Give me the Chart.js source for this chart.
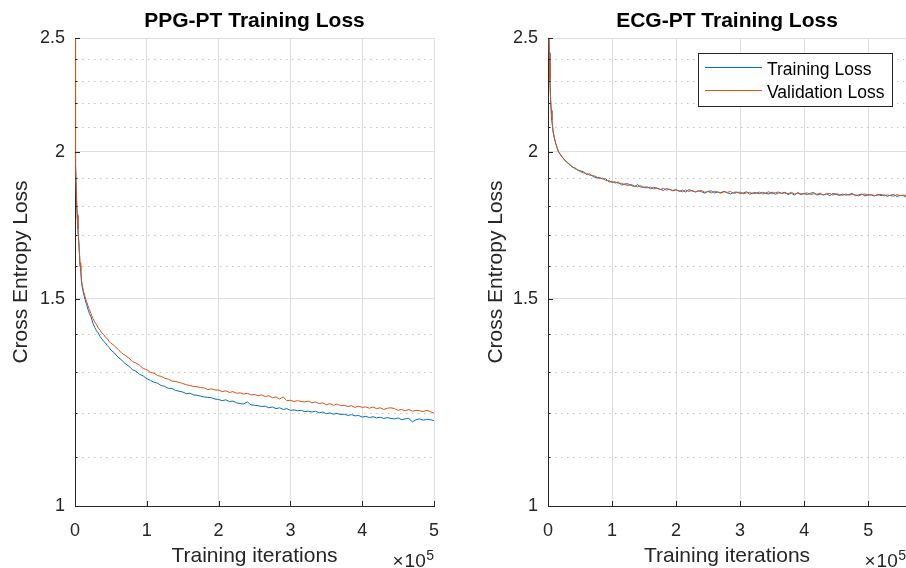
<!DOCTYPE html>
<html><head><meta charset="utf-8">
<script src="https://cdn.jsdelivr.net/npm/chart.js@4.4.0/dist/chart.umd.min.js"></script>
<style>
html,body{margin:0;padding:0;background:#fff;overflow:hidden;}
#wrap{position:relative;width:906px;height:568px;overflow:hidden;background:#fff;}
canvas{position:absolute;top:0;}
</style></head><body>
<div id="wrap">
<canvas id="c1" width="509" height="568" style="left:0px"></canvas>
<canvas id="c2" width="548" height="568" style="left:453px"></canvas>
</div>
<script>
// ---------------- data ----------------
const seriesNames = ['Training Loss', 'Validation Loss'];
const chartTitles = ['PPG-PT Training Loss', 'ECG-PT Training Loss'];
const yTickValues = [1, 1.5, 2, 2.5];
const yMinorValues = [1.1, 1.2, 1.3, 1.4, 1.6, 1.7, 1.8, 1.9, 2.1, 2.2, 2.3, 2.4];
const xTickK = [0, 100, 200, 300, 400, 500]; // iterations in thousands

const ppgIterK = [0,0.5,1,2,3,4,5,6,7,8,9,10,12,14,16,18,20,22.5,25,27.5,30,32.5,35,37.5,40,42.5,45,47.5,
50,55,60,65,70,75,80,85,90,95,100,105,110,115,120,125,130,135,140,145,150,155,160,165,170,175,180,185,190,195,
200,205,210,215,220,225,230,235,240,245,250,255,260,265,270,275,280,285,290,295,300,305,310,315,320,325,330,335,340,345,
350,355,360,365,370,375,380,385,390,395,400,405,410,415,420,425,430,435,440,445,450,455,460,465,470,475,480,485,490,495,500];
const ppgTrain = [3.2,2.28,1.95,1.83,1.765,1.72,1.685,1.645,1.60,1.592,1.552,1.536,1.514,1.498,1.484,1.470,1.458,1.447,1.430,1.419,1.409,1.403,1.393,1.387,1.380,1.376,1.369,1.364,
1.357,1.349,1.338,1.331,1.321,1.315,1.306,1.302,1.294,1.290,
1.283,1.279,1.274,1.272,1.266,1.264,1.259,1.259,1.254,1.252,
1.250,1.246,1.247,1.243,1.242,1.240,1.238,1.237,1.236,1.233,
1.232,1.229,1.231,1.227,1.228,1.224,1.222,1.221,1.226,1.219,
1.218,1.217,1.215,1.216,1.212,1.214,1.210,1.212,1.208,1.210,
1.206,1.207,1.205,1.206,1.203,1.204,1.202,1.204,1.200,1.202,
1.198,1.200,1.197,1.199,1.196,1.197,1.194,1.196,1.193,1.194,
1.190,1.192,1.189,1.191,1.188,1.190,1.187,1.189,1.187,1.186,
1.188,1.184,1.186,1.187,1.179,1.184,1.186,1.183,1.185,1.184,
1.182];
const ppgVal = [3.2,2.3,1.96,1.84,1.77,1.725,1.69,1.65,1.61,1.585,1.558,1.542,1.522,1.507,1.493,1.480,1.469,1.456,1.443,1.434,1.426,1.417,1.411,1.403,1.399,1.391,1.388,1.380,
1.376,1.368,1.359,1.349,1.343,1.336,1.327,1.323,1.317,1.309,
1.306,1.299,1.297,1.291,1.289,1.284,1.282,1.277,1.276,1.274,
1.271,1.268,1.266,1.264,1.263,1.261,1.260,1.256,1.258,1.255,
1.255,1.251,1.253,1.249,1.251,1.247,1.248,1.245,1.247,1.243,
1.244,1.241,1.243,1.239,1.241,1.236,1.238,1.233,1.238,1.229,
1.230,1.227,1.229,1.227,1.226,1.228,1.224,1.226,1.222,1.224,
1.219,1.222,1.218,1.221,1.217,1.218,1.215,1.217,1.213,1.216,
1.213,1.214,1.211,1.214,1.210,1.212,1.208,1.211,1.212,1.210,
1.206,1.208,1.205,1.208,1.204,1.206,1.205,1.203,1.206,1.203,
1.199];

const ecgIterK = [0,1,2,3,4,5,6,8,10,12,14,16,18,20,23,26,30,34,38,42,46,50,
55,60,65,70,75,80,85,90,95,100,105,110,115,120,125,130,135,140,145,150,155,160,165,170,175,180,185,190,195,200,
205,210,215,220,225,230,235,240,245,250,255,260,265,270,275,280,285,290,295,300,305,310,315,320,325,330,335,340,345,350,
355,360,365,370,375,380,385,390,395,400,405,410,415,420,425,430,435,440,445,450,455,460,465,470,475,480,485,490,495,500,
505,510,515,520,525,530,535,540,545,550,555,560];
const ecgTrain = [2.95,2.62,2.43,2.31,2.225,2.17,2.13,2.082,2.054,2.036,2.017,2.004,1.994,1.989,1.976,1.970,1.958,1.953,1.941,1.939,1.930,1.928,
1.924,1.914,1.916,1.907,1.901,1.903,1.897,1.898,1.886,1.887,
1.882,1.886,1.874,1.879,1.879,1.873,1.869,1.876,1.867,1.867,
1.868,1.861,1.866,1.863,1.859,1.855,1.862,1.858,1.855,1.858,
1.851,1.856,1.849,1.858,1.853,1.850,1.854,1.850,1.845,1.852,
1.853,1.846,1.849,1.847,1.852,1.846,1.842,1.848,1.849,1.844,
1.846,1.850,1.841,1.846,1.847,1.843,1.848,1.844,1.842,1.849,
1.841,1.846,1.845,1.848,1.840,1.845,1.838,1.847,1.842,1.843,
1.840,1.845,1.847,1.838,1.842,1.839,1.843,1.836,1.844,1.841,
1.837,1.842,1.838,1.840,1.844,1.836,1.839,1.842,1.835,1.840,
1.838,1.835,1.841,1.836,1.839,1.834,1.838,1.840,1.833,1.837,
1.836,1.830];
const ecgVal = [2.95,2.60,2.42,2.30,2.22,2.168,2.132,2.078,2.056,2.033,2.020,2.001,1.997,1.985,1.979,1.967,1.961,1.949,1.944,1.935,1.933,1.925,
1.920,1.918,1.911,1.910,1.906,1.899,1.900,1.891,1.892,1.884,
1.887,1.880,1.881,1.876,1.873,1.877,1.871,1.868,1.872,1.865,
1.864,1.867,1.860,1.864,1.858,1.863,1.856,1.859,1.853,1.857,
1.854,1.850,1.857,1.851,1.855,1.849,1.852,1.855,1.848,1.851,
1.846,1.852,1.849,1.845,1.850,1.848,1.851,1.844,1.847,1.849,
1.843,1.846,1.848,1.843,1.845,1.849,1.842,1.846,1.850,1.843,
1.847,1.849,1.844,1.846,1.843,1.848,1.842,1.845,1.840,1.844,
1.846,1.840,1.843,1.841,1.845,1.838,1.842,1.844,1.838,1.843,
1.840,1.837,1.842,1.838,1.841,1.839,1.835,1.840,1.842,1.837,
1.840,1.836,1.838,1.841,1.835,1.839,1.836,1.834,1.840,1.836,
1.838,1.837];

// ---------------- styling ----------------
const FONT = '"Liberation Sans", Arial, Helvetica, sans-serif';
const INK = '#262626';
const BLUE = '#0072BD';
const ORANGE = '#D95319';

const decor = {
  id: 'decor',
  beforeDatasetsDraw(chart) {
    const {ctx, chartArea: a, scales: {y}} = chart;
    ctx.save();
    ctx.strokeStyle = '#c4c4c4';
    ctx.lineWidth = 1;
    ctx.setLineDash([1.5, 4.5]);
    for (const v of yMinorValues) {
      const py = Math.round(y.getPixelForValue(v)) + 0.5;
      ctx.beginPath(); ctx.moveTo(a.left + 1, py); ctx.lineTo(a.right, py); ctx.stroke();
    }
    ctx.restore();
  },
  afterDraw(chart, args, opts) {
    const {ctx, chartArea: a, scales: {x, y}} = chart;
    ctx.save();
    ctx.strokeStyle = INK; ctx.lineWidth = 1; ctx.setLineDash([]);
    ctx.beginPath();
    for (const v of yTickValues) { const py = Math.round(y.getPixelForValue(v)) + 0.5; ctx.moveTo(a.left, py); ctx.lineTo(a.left + 5, py); }
    for (const v of yMinorValues) { const py = Math.round(y.getPixelForValue(v)) + 0.5; ctx.moveTo(a.left, py); ctx.lineTo(a.left + 2.5, py); }
    for (const v of xTickK) { const px = Math.round(x.getPixelForValue(v)) + 0.5; ctx.moveTo(px, a.bottom); ctx.lineTo(px, a.bottom - 5); }
    ctx.stroke();
    // x10^5 exponent label
    ctx.fillStyle = INK; ctx.textAlign = 'right'; ctx.textBaseline = 'alphabetic';
    ctx.font = '14px ' + FONT;
    const w5 = ctx.measureText('5').width;
    ctx.fillText('5', a.right, 559.5);
    ctx.font = '19px ' + FONT;
    const x10 = a.right - w5 - 0.5;
    ctx.fillText('10', x10, 566.5);
    const w10 = ctx.measureText('10').width;
    ctx.fillText('\u00D7', x10 - w10 - 1, 566.5);
    // legend box
    if (opts && opts.legend) {
      const ds = chart.data.datasets;
      ctx.font = '17.5px ' + FONT;
      const tw = Math.max(...ds.map(d => ctx.measureText(d.label).width));
      const right = a.right - 14, top = a.top + 15;
      const w = Math.round(7 + 57 + 5 + tw + 8), h = 53;
      const left = Math.round(right - w);
      ctx.fillStyle = '#fff'; ctx.fillRect(left, top, w, h);
      ctx.strokeStyle = INK; ctx.lineWidth = 1;
      ctx.strokeRect(left + 0.5, top + 0.5, w, h);
      const rows = [14.5, 37.5];
      ds.forEach((d, i) => {
        const ry = top + rows[i];
        ctx.strokeStyle = d.borderColor; ctx.lineWidth = 1;
        ctx.beginPath(); ctx.moveTo(left + 7, ry); ctx.lineTo(left + 64, ry); ctx.stroke();
        ctx.fillStyle = '#000'; ctx.textAlign = 'left'; ctx.textBaseline = 'middle';
        ctx.fillText(d.label, left + 69, ry + 2.3);
      });
    }
    ctx.restore();
  }
};

function makeChart(id, iters, train, val, title, xMax, yWidth, rightSpace, yTitlePad, showLegend) {
  const pts = arr => iters.map((k, i) => ({x: k, y: arr[i]}));
  return new Chart(document.getElementById(id), {
    type: 'line',
    data: {
      datasets: [
        {label: seriesNames[0], data: pts(train), borderColor: BLUE, backgroundColor: BLUE, borderWidth: 1, pointRadius: 0, tension: 0, fill: false, order: 2},
        {label: seriesNames[1], data: pts(val), borderColor: ORANGE, backgroundColor: ORANGE, borderWidth: 1, pointRadius: 0, tension: 0, fill: false, order: 1}
      ]
    },
    options: {
      responsive: false, animation: false, devicePixelRatio: 1,
      layout: {padding: 0},
      plugins: {
        legend: {display: false},
        tooltip: {enabled: false},
        title: {display: true, text: title, color: '#000', font: {family: FONT, size: 21, weight: 'bold'}, padding: {top: 8.5, bottom: 4.3}},
        decor: {legend: showLegend}
      },
      scales: {
        x: {
          type: 'linear', min: 0, max: xMax,
          afterBuildTicks: s => { s.ticks = xTickK.map(v => ({value: v})); },
          afterFit: s => { s.height = 62; },
          ticks: {callback: v => String(v / 100), color: INK, font: {family: FONT, size: 18}, padding: 14, maxRotation: 0},
          grid: {color: '#dfdfdf', lineWidth: 1, drawTicks: false},
          border: {display: true, color: INK, width: 1},
          title: {display: true, text: 'Training iterations', color: INK, font: {family: FONT, size: 21}, padding: {top: 0, bottom: -1}}
        },
        y: {
          type: 'logarithmic', min: 1, max: 2.5,
          afterBuildTicks: s => { s.ticks = yTickValues.map(v => ({value: v})); },
          afterFit: s => { s.width = yWidth; },
          ticks: {callback: v => String(v), color: INK, font: {family: FONT, size: 18}, padding: 10},
          grid: {color: '#dfdfdf', lineWidth: 1, drawTicks: false},
          border: {display: true, color: INK, width: 1},
          title: {display: true, text: 'Cross Entropy Loss', color: INK, font: {family: FONT, size: 21}, padding: {top: yTitlePad, bottom: 0}}
        },
        // empty spacer on the right so the title centres over the plot area
        spacer: {
          type: 'linear', position: 'right', display: true,
          afterFit: s => { s.width = rightSpace; },
          ticks: {display: false},
          grid: {display: false, drawTicks: false},
          border: {display: false}
        }
      }
    },
    plugins: [decor]
  });
}

makeChart('c1', ppgIterK, ppgTrain, ppgVal, chartTitles[0], 500, 75, 75, 8.8, false);
makeChart('c2', ecgIterK, ecgTrain, ecgVal, chartTitles[1], 559, 95, 95, 30.6, true);
</script>
</body></html>
